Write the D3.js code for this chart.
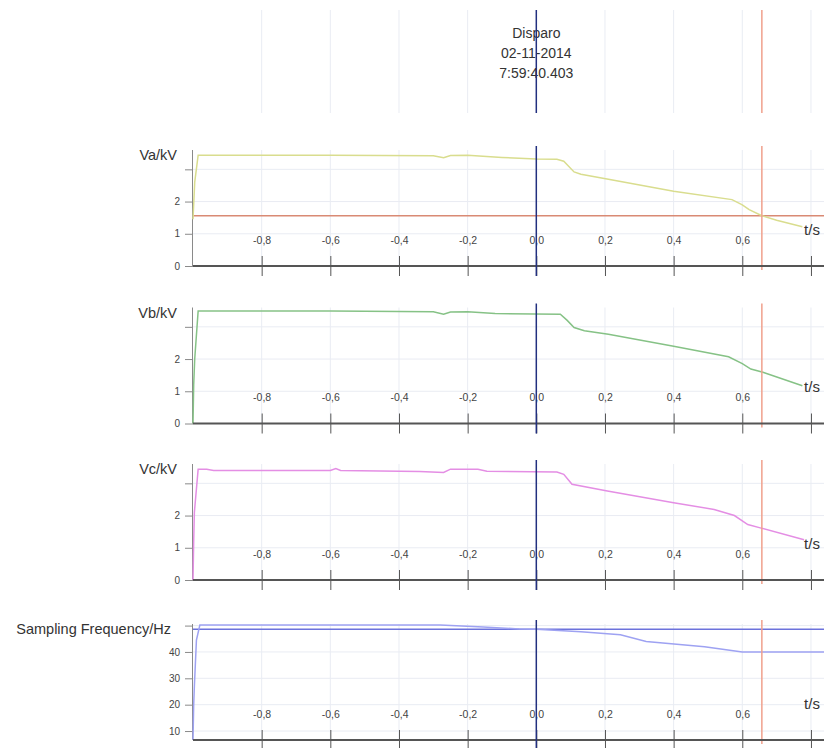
<!DOCTYPE html>
<html>
<head>
<meta charset="utf-8">
<script src="https://cdn.jsdelivr.net/npm/d3@7"></script>
<style>
  html, body { margin: 0; padding: 0; background: #ffffff; }
  svg { display: block; font-family: "Liberation Sans", Arial, sans-serif; }
</style>
</head>
<body>
<svg id="chart" width="824" height="748"></svg>
<script>
// ---------- DATA ----------
const timeTicks = [-0.8, -0.6, -0.4, -0.2, 0.0, 0.2, 0.4, 0.6, 0.8];
const timeTickLabels = ["-0,8", "-0,6", "-0,4", "-0,2", "0,0", "0,2", "0,4", "0,6", ""];
const triggerTime = 0.0;
const cursorTime = 0.657;
const headerLines = ["Disparo", "02-11-2014", "7:59:40.403"];

const panelLabels = ["Va/kV", "Vb/kV", "Vc/kV", "Sampling Frequency/Hz"];

const voltTicks = [0, 1, 2, 3];
const voltTickLabels = ["0", "1", "2", ""];
const freqTicks = [10, 20, 30, 40, 50];
const freqTickLabels = ["10", "20", "30", "40", ""];

const vaTime = [-1.0, -0.995, -0.985, -0.6, -0.3, -0.27, -0.25, -0.2, -0.1, 0.0, 0.06, 0.08, 0.11, 0.13, 0.21, 0.4, 0.57, 0.6, 0.62, 0.657, 0.7, 0.775];
const vaValues = [1.45, 2.6, 3.44, 3.44, 3.42, 3.36, 3.43, 3.44, 3.37, 3.32, 3.31, 3.25, 2.92, 2.85, 2.69, 2.32, 2.06, 1.9, 1.75, 1.56, 1.42, 1.22];

const vbTime = [-1.0, -0.998, -0.995, -0.985, -0.6, -0.3, -0.27, -0.25, -0.2, -0.12, 0.07, 0.09, 0.11, 0.14, 0.21, 0.4, 0.56, 0.6, 0.625, 0.66, 0.775];
const vbValues = [0.0, 1.2, 2.0, 3.49, 3.49, 3.47, 3.39, 3.46, 3.47, 3.41, 3.39, 3.2, 2.98, 2.88, 2.77, 2.4, 2.07, 1.86, 1.69, 1.59, 1.17];

const vcTime = [-1.0, -0.998, -0.996, -0.985, -0.96, -0.94, -0.6, -0.584, -0.57, -0.34, -0.27, -0.25, -0.17, -0.144, 0.06, 0.08, 0.104, 0.207, 0.4, 0.518, 0.577, 0.616, 0.655, 0.78];
const vcValues = [0.0, 1.2, 2.1, 3.44, 3.44, 3.40, 3.40, 3.46, 3.40, 3.37, 3.34, 3.44, 3.44, 3.375, 3.35, 3.28, 2.97, 2.76, 2.4, 2.19, 2.0, 1.72, 1.61, 1.25];

const freqTime = [-1.0, -0.998, -0.996, -0.99, -0.98, -0.28, -0.155, -0.05, 0.0, 0.13, 0.245, 0.32, 0.49, 0.6, 0.84];
const freqValues = [6.6, 20, 27, 44.5, 50.2, 50.2, 49.5, 48.7, 48.6, 47.7, 46.5, 44.0, 42.0, 40.0, 40.0];

const vaCursorValue = 1.56;     // horizontal cursor line in Va panel
const freqTriggerValue = 48.6;  // horizontal line in frequency panel

// ---------- LAYOUT ----------
const svg = d3.select("#chart");
const W = 824;
const x = d3.scaleLinear().domain([-1.0, 0.838]).range([193, 824]);

const panels = [
  { label: panelLabels[0], time: vaTime, values: vaValues, color: "#d9dd8e", domain: [0, 3.6], ticks: voltTicks, tickLabels: voltTickLabels, bottom: 266, hline: vaCursorValue, hcolor: "#d98a74" },
  { label: panelLabels[1], time: vbTime, values: vbValues, color: "#86c286", domain: [0, 3.6], ticks: voltTicks, tickLabels: voltTickLabels, bottom: 423.5 },
  { label: panelLabels[2], time: vcTime, values: vcValues, color: "#e48ee4", domain: [0, 3.6], ticks: voltTicks, tickLabels: voltTickLabels, bottom: 580 },
  { label: panelLabels[3], time: freqTime, values: freqValues, color: "#9ea2f2", domain: [6.6, 50.6], ticks: freqTicks, tickLabels: freqTickLabels, bottom: 740, hline: freqTriggerValue, hcolor: "#6c72dc" }
];
const panelHeight = 116;

const gridColor = "#e9ecf3";
const triggerColor = "#22307f";
const cursorColor = "#f0a08c";

// ---------- HEADER ----------
const header = svg.append("g");
header.selectAll("line.vg").data(timeTicks).join("line")
  .attr("x1", d => x(d)).attr("x2", d => x(d))
  .attr("y1", 10).attr("y2", 113)
  .attr("stroke", gridColor).attr("stroke-width", 1);
header.append("line")
  .attr("x1", x(cursorTime)).attr("x2", x(cursorTime))
  .attr("y1", 10).attr("y2", 113)
  .attr("stroke", cursorColor).attr("stroke-width", 1.5);
header.selectAll("text").data(headerLines).join("text")
  .attr("x", x(triggerTime))
  .attr("y", (d, i) => 33 + i * 20)
  .attr("text-anchor", "middle")
  .attr("dominant-baseline", "central")
  .attr("font-size", 14)
  .attr("fill", "#333")
  .text(d => d);
header.append("line")
  .attr("x1", x(triggerTime)).attr("x2", x(triggerTime))
  .attr("y1", 10).attr("y2", 113)
  .attr("stroke", triggerColor).attr("stroke-width", 1.5);

// ---------- PANELS ----------
panels.forEach(p => {
  const g = svg.append("g");
  const top = p.bottom - panelHeight;
  const y = d3.scaleLinear().domain(p.domain).range([p.bottom, top]);

  // grid
  g.selectAll("line.hg").data(p.ticks).join("line")
    .attr("x1", x.range()[0]).attr("x2", W)
    .attr("y1", d => y(d)).attr("y2", d => y(d))
    .attr("stroke", gridColor).attr("stroke-width", 1);
  g.selectAll("line.vg").data(timeTicks).join("line")
    .attr("x1", d => x(d)).attr("x2", d => x(d))
    .attr("y1", top).attr("y2", p.bottom)
    .attr("stroke", gridColor).attr("stroke-width", 1);

  // y axis
  const yAxis = d3.axisLeft(y).tickValues(p.ticks)
    .tickFormat((d, i) => p.tickLabels[i]).tickSize(8).tickPadding(5);
  const ya = g.append("g").attr("transform", `translate(${x.range()[0]},0)`).call(yAxis);
  ya.select(".domain").attr("stroke", "#8a8a8a").attr("d", `M-0.5,${top}V${p.bottom}`);
  ya.selectAll(".tick line").attr("stroke", "#8a8a8a");
  ya.selectAll(".tick text").attr("font-size", 10).attr("fill", "#444")
    .attr("font-family", "'Liberation Sans', Arial, sans-serif");

  // panel label
  g.append("text")
    .attr("x", p.label.length > 8 ? 171 : 177)
    .attr("y", top + 5)
    .attr("text-anchor", "end")
    .attr("dominant-baseline", "central")
    .attr("font-size", 14.5)
    .attr("fill", "#333")
    .text(p.label);

  // horizontal reference
  if (p.hline !== undefined) {
    g.append("line")
      .attr("x1", x.range()[0]).attr("x2", W)
      .attr("y1", y(p.hline)).attr("y2", y(p.hline))
      .attr("stroke", p.hcolor).attr("stroke-width", 1.5);
  }

  // signal
  const pts = p.time.map((t, i) => [t, p.values[i]]);
  g.append("path")
    .datum(pts)
    .attr("fill", "none")
    .attr("stroke", p.color)
    .attr("stroke-width", 1.5)
    .attr("d", d3.line().x(d => x(d[0])).y(d => y(d[1])));

  // cursor line
  g.append("line")
    .attr("x1", x(cursorTime)).attr("x2", x(cursorTime))
    .attr("y1", top - 4).attr("y2", p.bottom + 4)
    .attr("stroke", cursorColor).attr("stroke-width", 1.5);

  // x axis (ticks cross the axis line, labels above)
  const xAxis = d3.axisBottom(x).tickValues(timeTicks)
    .tickFormat((d, i) => timeTickLabels[i]).tickSizeInner(0).tickSizeOuter(0);
  const xa = g.append("g").attr("transform", `translate(0,${p.bottom})`).call(xAxis);
  xa.select(".domain").attr("stroke", "#555").attr("stroke-width", 2)
    .attr("d", `M${x.range()[0]},0H${W}`);
  xa.selectAll(".tick line").attr("y1", -10).attr("y2", 10).attr("stroke", "#555");
  xa.selectAll(".tick text")
    .attr("y", -26).attr("dy", "0.35em")
    .attr("font-size", 10.5).attr("fill", "#444")
    .attr("font-family", "'Liberation Sans', Arial, sans-serif");

  g.append("text")
    .attr("x", 812).attr("y", p.bottom - 37)
    .attr("text-anchor", "middle")
    .attr("dominant-baseline", "central")
    .attr("font-size", 15).attr("fill", "#333")
    .text("t/s");

  // trigger line
  g.append("line")
    .attr("x1", x(triggerTime)).attr("x2", x(triggerTime))
    .attr("y1", top - 4).attr("y2", p.bottom + 10)
    .attr("stroke", triggerColor).attr("stroke-width", 1.5);
});
</script>
</body>
</html>
